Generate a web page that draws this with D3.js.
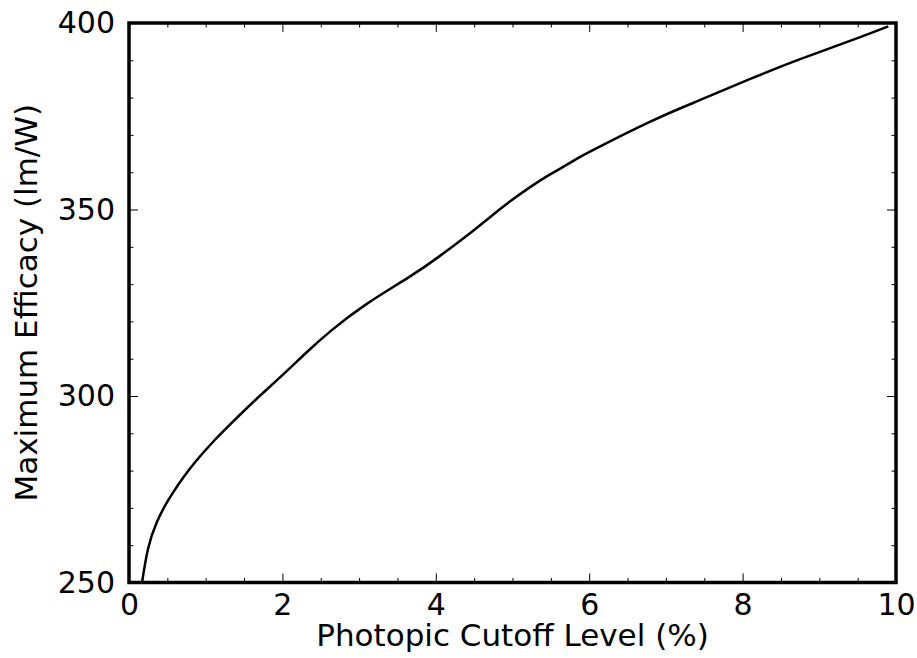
<!DOCTYPE html>
<html>
<head>
<meta charset="utf-8">
<script src="https://cdn.jsdelivr.net/npm/d3@7"></script>
<style>
  html, body { margin: 0; padding: 0; background: #fff; }
  svg { display: block; }
  text { font-family: "DejaVu Sans", sans-serif; fill: #000; }
</style>
</head>
<body>
<svg id="chart" width="917" height="658"></svg>
<script>
// ---- data ----
const cutoffLevel = [0.17, 0.25, 0.36, 0.47, 0.58, 0.71, 0.88, 1.1, 1.32, 1.62, 2.0, 2.32, 2.64, 3.1, 3.66, 4.05, 4.45, 4.71, 4.97, 5.23, 5.49, 5.75, 6.01, 6.79, 7.44, 8.1, 8.75, 9.4, 9.9];
const maxEfficacy = [250, 259.2, 266.0, 270.6, 274.3, 278.2, 282.7, 287.8, 292.4, 298.4, 305.6, 311.8, 317.6, 324.7, 332.0, 337.5, 343.7, 348.0, 352.2, 356.0, 359.4, 362.5, 365.5, 373.5, 379.3, 385.0, 390.3, 395.2, 399.1];
const xMajorTicks = [0, 2, 4, 6, 8, 10];
const xMinorTicks = [0.5, 1, 1.5, 2.5, 3, 3.5, 4.5, 5, 5.5, 6.5, 7, 7.5, 8.5, 9, 9.5];
const yMajorTicks = [250, 300, 350, 400];
const yMinorTicks = [260, 270, 280, 290, 310, 320, 330, 340, 360, 370, 380, 390];
const xLabel = "Photopic Cutoff Level (%)";
const yLabel = "Maximum Efficacy (lm/W)";

// ---- layout ----
const L = 129, R = 896, T = 23, B = 582.5;
const svg = d3.select("#chart");
const x = d3.scaleLinear().domain([0, 10]).range([L, R]);
const y = d3.scaleLinear().domain([250, 400]).range([B, T]);
const fs = 30, lfs = 31, major = 9, minor = 4.5;

function style(g) {
  g.select(".domain").remove();
  g.selectAll(".tick line").attr("stroke", "#000").attr("stroke-width", 1);
  g.selectAll(".tick text").attr("font-family", "DejaVu Sans").attr("font-size", fs).attr("fill", "#000");
}

// clip
svg.append("clipPath").attr("id", "clip").append("rect")
  .attr("x", L).attr("y", T).attr("width", R - L).attr("height", B - T);

// bottom axis
svg.append("g").attr("transform", `translate(0,${B})`)
  .call(d3.axisBottom(x).tickValues(xMajorTicks).tickFormat(d3.format("d")).tickSize(-major).tickPadding(11))
  .call(style);
svg.append("g").attr("transform", `translate(0,${B})`)
  .call(d3.axisBottom(x).tickValues(xMinorTicks).tickFormat("").tickSize(-minor))
  .call(style);
// top axis (ticks only)
svg.append("g").attr("transform", `translate(0,${T})`)
  .call(d3.axisTop(x).tickValues(xMajorTicks).tickFormat("").tickSize(-major))
  .call(style);
svg.append("g").attr("transform", `translate(0,${T})`)
  .call(d3.axisTop(x).tickValues(xMinorTicks).tickFormat("").tickSize(-minor))
  .call(style);
// left axis
svg.append("g").attr("transform", `translate(${L},0)`)
  .call(d3.axisLeft(y).tickValues(yMajorTicks).tickFormat(d3.format("d")).tickSize(-major).tickPadding(14))
  .call(style);
svg.append("g").attr("transform", `translate(${L},0)`)
  .call(d3.axisLeft(y).tickValues(yMinorTicks).tickFormat("").tickSize(-minor))
  .call(style);
// right axis
svg.append("g").attr("transform", `translate(${R},0)`)
  .call(d3.axisRight(y).tickValues(yMajorTicks).tickFormat("").tickSize(-major))
  .call(style);
svg.append("g").attr("transform", `translate(${R},0)`)
  .call(d3.axisRight(y).tickValues(yMinorTicks).tickFormat("").tickSize(-minor))
  .call(style);

// curve
const pts = cutoffLevel.map((c, i) => [c, maxEfficacy[i]]);
svg.append("path")
  .datum(pts)
  .attr("clip-path", "url(#clip)")
  .attr("fill", "none")
  .attr("stroke", "#000")
  .attr("stroke-width", 2.5)
  .attr("stroke-linejoin", "round")
  .attr("d", d3.line().x(d => x(d[0])).y(d => y(d[1])).curve(d3.curveNatural));

// frame
svg.append("rect")
  .attr("x", L).attr("y", T).attr("width", R - L).attr("height", B - T)
  .attr("fill", "none").attr("stroke", "#000").attr("stroke-width", 3.5);

// labels
svg.append("text")
  .attr("x", (L + R) / 2).attr("y", 646)
  .attr("text-anchor", "middle").attr("font-size", lfs)
  .text(xLabel);
svg.append("text")
  .attr("transform", `translate(37,${(T + B) / 2}) rotate(-90)`)
  .attr("text-anchor", "middle").attr("font-size", lfs)
  .text(yLabel);
</script>
</body>
</html>
